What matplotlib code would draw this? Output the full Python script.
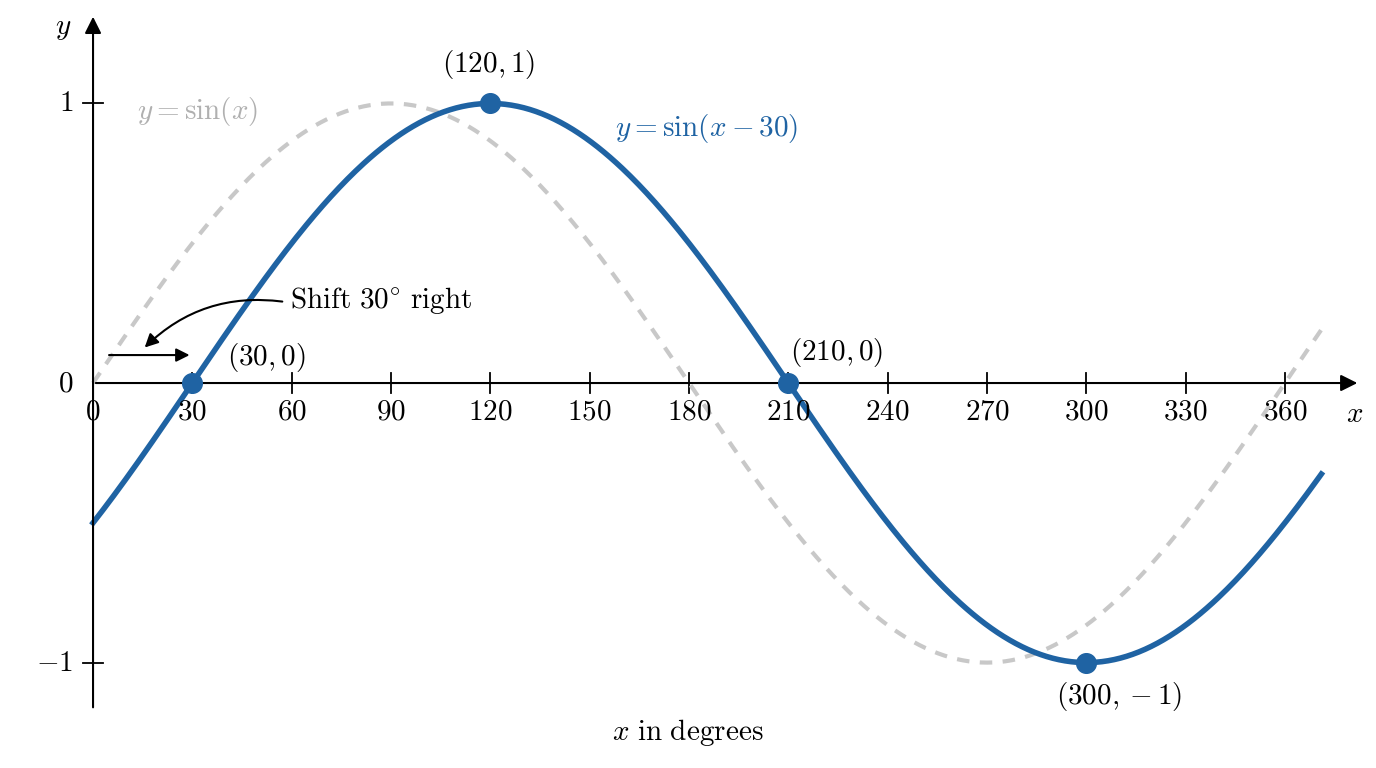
import numpy as np
import matplotlib
matplotlib.use("Agg")
import matplotlib.pyplot as plt

plt.rcParams['mathtext.fontset'] = 'cm'
plt.rcParams['font.family'] = ['DejaVu Serif']

shift = 30
x_deg = np.linspace(0, 371, 600)
y_base = np.sin(np.radians(x_deg))
y_shift = np.sin(np.radians(x_deg - shift))
xticks = [0, 30, 60, 90, 120, 150, 180, 210, 240, 270, 300, 330, 360]
key_x = [30, 120, 210, 300]
key_y = [0, 1, 0, -1]

BLUE = '#1f63a3'
GRAY = '#c8c8c8'
FS = 21

fig = plt.figure(figsize=(13.76, 7.68), dpi=100)
ax = fig.add_axes([0, 0, 1, 1])
ax.set_xlim(-28.1, 387.5)
ax.set_ylim(-1.377, 1.370)
ax.axis('off')

# axes
ax.annotate('', xy=(382.7, 0), xytext=(0, 0),
            arrowprops=dict(arrowstyle='-|>', color='black', lw=1.5, mutation_scale=25))
ax.annotate('', xy=(0, 1.32), xytext=(0, -1.17),
            arrowprops=dict(arrowstyle='-|>', color='black', lw=1.5, mutation_scale=25))
for t in xticks[1:]:
    ax.plot([t, t], [-0.035, 0.035], color='black', lw=1.3)
    ax.text(t, -0.05, f'${t}$', ha='center', va='top', fontsize=FS)
ax.text(0, -0.05, '$0$', ha='center', va='top', fontsize=FS)
for v in [1, -1]:
    ax.plot([-3, 3], [v, v], color='black', lw=1.3)
    ax.text(-6, v, f'${v}$'.replace('-', '-'), ha='right', va='center', fontsize=FS)
ax.text(-6, 0, '$0$', ha='right', va='center', fontsize=FS)
ax.text(-9, 1.27, '$y$', ha='center', va='center', fontsize=FS)
ax.text(381, -0.11, '$x$', ha='center', va='center', fontsize=FS)

# curves
ax.plot(x_deg, y_base, color=GRAY, lw=3, ls=(0, (3, 2.5)))
ax.plot(x_deg, y_shift, color=BLUE, lw=4)
ax.scatter(key_x, key_y, s=200, color=BLUE, zorder=5)

ax.text(119.5, 1.14, '$(120,1)$', ha='center', va='center', fontsize=FS)
ax.text(40.5, 0.09, '$(30,0)$', ha='left', va='center', fontsize=FS)
ax.text(210.5, 0.11, '$(210,0)$', ha='left', va='center', fontsize=FS)
ax.text(310, -1.12, '$(300,-1)$', ha='center', va='center', fontsize=FS)
ax.text(13.3, 0.97, '$y=\\sin(x)$', ha='left', va='center', fontsize=FS, color='#b0b0b0')
ax.text(157.7, 0.91, '$y=\\sin(x-30)$', ha='left', va='center', fontsize=FS, color=BLUE)
ax.text(179.7, -1.25, '$x\\ \\mathrm{in\\ degrees}$', ha='center', va='center', fontsize=FS)
ax.text(59.5, 0.295, '$\\mathrm{Shift\\ 30^{\\circ}\\ right}$', ha='left', va='center', fontsize=FS)

ax.annotate('', xy=(30, 0.1), xytext=(4, 0.1),
            arrowprops=dict(arrowstyle='-|>', color='black', lw=1.5, mutation_scale=20))
ax.annotate('', xy=(15, 0.12), xytext=(58, 0.29),
            arrowprops=dict(arrowstyle='-|>', color='black', lw=1.5, mutation_scale=20,
                            connectionstyle='arc3,rad=0.25'))

fig.savefig('out.png', dpi=100)
